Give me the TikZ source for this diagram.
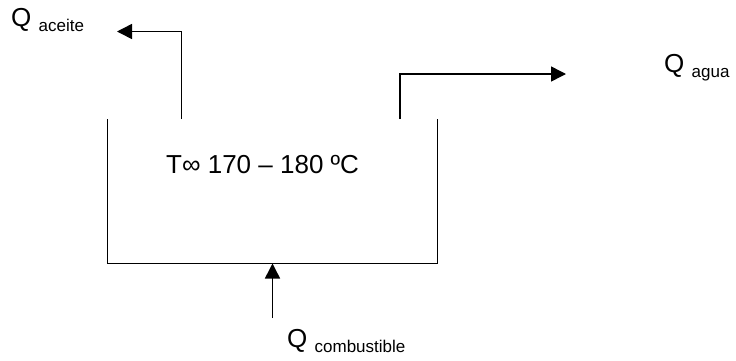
\documentclass[tikz,border=0pt]{standalone}
\usepackage{fontspec}
\setmainfont{Liberation Sans}
\usetikzlibrary{arrows.meta}
\newcommand{\sublbl}[1]{\raisebox{-5pt}{\fontsize{17}{20}\selectfont #1}}
\begin{document}
\begin{tikzpicture}[x=1pt,y=-1pt,
  line/.style={line width=1.5pt,line cap=butt,line join=miter},
  flow/.style={line,-{Triangle[length=15pt,width=15pt]}},
  lbl/.style={inner sep=0pt,anchor=base west,font=\fontsize{26}{30}\selectfont}]
\useasboundingbox (0,0) rectangle (736,360);
% vessel
\coordinate (tl) at (107.5,119);
\coordinate (bl) at (107.5,263.5);
\coordinate (br) at (437.5,263.5);
\coordinate (tr) at (437.5,119);
\draw[line] (tl) -- (bl) -- (br) -- (tr);
% oil outlet
\coordinate (a0) at (181.5,119);
\coordinate (a1) at (181.5,31.5);
\coordinate (a2) at (117,31.5);
\draw[flow] (a0) -- (a1) -- (a2);
% water outlet
\coordinate (w0) at (400,119);
\coordinate (w1) at (400,74);
\coordinate (w2) at (566,74);
\draw[flow] (w0) -- (w1) -- (w2);
% fuel inlet
\coordinate (f0) at (272.5,318);
\coordinate (f1) at (272.5,263.5);
\draw[flow] (f0) -- (f1);
% labels
\node[lbl] (qa) at (11,26) {Q \sublbl{aceite}};
\node[lbl] (qw) at (664,72) {Q \sublbl{agua}};
\node[lbl] (qc) at (287,347) {Q \sublbl{combustible}};
\node[lbl] (t) at (166,173) {T∞ 170 – 180 ºC};
\end{tikzpicture}
\end{document}
